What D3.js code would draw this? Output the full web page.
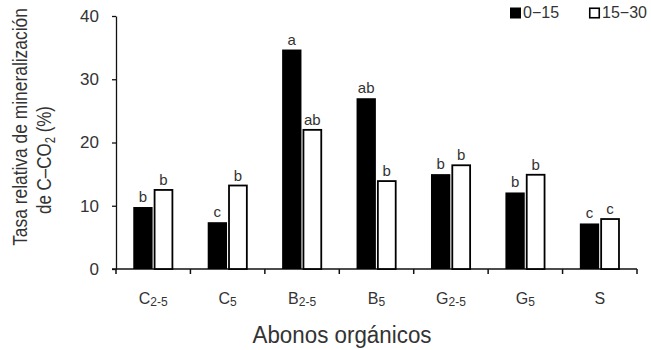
<!DOCTYPE html>
<html>
<head>
<meta charset="utf-8">
<script src="https://cdn.jsdelivr.net/npm/d3@7"></script>
<style>
  body { margin: 0; background: #fff; }
  text { font-family: "Liberation Sans Narrow", "Liberation Sans", Arial, sans-serif; fill: #333; }
</style>
</head>
<body>
<div id="chart"></div>
<script>
// categories: base letter + subscript
var catBase = ["C", "C", "B", "B", "G", "G", "S"];
var catSub = ["2-5", "5", "2-5", "5", "2-5", "5", ""];
var seriesNames = ["0\u221215", "15\u221230"];
var depth0 = [9.8, 7.4, 34.7, 27.0, 15.0, 12.1, 7.2];
var depth1 = [12.5, 13.2, 22.0, 13.9, 16.4, 14.9, 7.9];
var letters0 = ["b", "c", "a", "ab", "b", "b", "c"];
var letters1 = ["b", "b", "ab", "b", "b", "b", "c"];
var yTicks = [0, 10, 20, 30, 40];

var W = 651, H = 350;
var margin = {top: 16, right: 14, bottom: 81, left: 116};

var svg = d3.select("#chart").append("svg")
    .attr("width", W)
    .attr("height", H);

var g = svg.append("g")
    .attr("transform", "translate(" + margin.left + "," + margin.top + ")");

var width = W - margin.left - margin.right,
    height = H - margin.top - margin.bottom;

var idx = d3.range(catBase.length);

var x0 = d3.scaleBand()
    .domain(idx)
    .range([0, width])
    .padding(0);

var x1 = d3.scaleBand()
    .domain([0, 1])
    .range([0, x0.bandwidth()])
    .paddingInner(0.06)
    .paddingOuter(0.84);

var y = d3.scaleLinear()
    .domain([0, 40])
    .range([height, 0]);

// y axis
var yAxis = d3.axisLeft(y)
    .tickValues(yTicks)
    .tickSize(4)
    .tickSizeOuter(0)
    .tickPadding(13);

var yg = g.append("g").attr("class", "y-axis").call(yAxis);
yg.select(".domain").attr("stroke", "#111").attr("stroke-width", 1.3);
yg.selectAll(".tick line").attr("stroke", "#111").attr("stroke-width", 1.3);
yg.selectAll(".tick text")
    .style("font-size", "17px")
    .attr("fill", "#333");

// x axis line + boundary ticks
g.append("line")
    .attr("x1", -4).attr("x2", width)
    .attr("y1", height).attr("y2", height)
    .attr("stroke", "#111").attr("stroke-width", 1.5);

var bounds = idx.map(function (i) { return x0(i); }).concat([width]);
g.selectAll(".xtick")
    .data(bounds)
    .enter().append("line")
    .attr("class", "xtick")
    .attr("x1", function (d) { return d; })
    .attr("x2", function (d) { return d; })
    .attr("y1", height)
    .attr("y2", height + 5)
    .attr("stroke", "#111").attr("stroke-width", 1.5);

// category labels with subscripts
var lab = g.selectAll(".xlab")
    .data(idx)
    .enter().append("text")
    .attr("class", "xlab")
    .attr("x", function (i) { return x0(i) + x0.bandwidth() / 2; })
    .attr("y", height + 35)
    .attr("text-anchor", "middle")
    .style("font-size", "16px");
lab.append("tspan").text(function (i) { return catBase[i]; });
lab.append("tspan")
    .attr("dy", 2)
    .style("font-size", "12px")
    .text(function (i) { return catSub[i]; });

// bars
var groups = g.selectAll(".grp")
    .data(idx)
    .enter().append("g")
    .attr("class", "grp")
    .attr("transform", function (i) { return "translate(" + x0(i) + ",0)"; });

groups.append("rect")
    .attr("x", x1(0))
    .attr("y", function (i) { return y(depth0[i]); })
    .attr("width", x1.bandwidth())
    .attr("height", function (i) { return height - y(depth0[i]); })
    .attr("fill", "#000");

groups.append("rect")
    .attr("x", x1(1) + 0.75)
    .attr("y", function (i) { return y(depth1[i]); })
    .attr("width", x1.bandwidth() - 1.5)
    .attr("height", function (i) { return height - y(depth1[i]); })
    .attr("fill", "#fff")
    .attr("stroke", "#000")
    .attr("stroke-width", 1.8);

// significance letters
groups.append("text")
    .attr("x", x1(0) + x1.bandwidth() / 2)
    .attr("y", function (i) { return y(depth0[i]) - 5; })
    .attr("text-anchor", "middle")
    .style("font-size", "15px")
    .text(function (i) { return letters0[i]; });

groups.append("text")
    .attr("x", x1(1) + x1.bandwidth() / 2)
    .attr("y", function (i) { return y(depth1[i]) - 5; })
    .attr("text-anchor", "middle")
    .style("font-size", "15px")
    .text(function (i) { return letters1[i]; });

// axis titles
svg.append("text")
    .attr("x", 342)
    .attr("y", 343)
    .attr("text-anchor", "middle")
    .attr("textLength", 179)
    .attr("lengthAdjust", "spacingAndGlyphs")
    .style("font-size", "23px")
    .text("Abonos orgánicos");

// squeeze a rotated label horizontally to a target length (narrow font look)
function squeeze(sel, cx, cy, target) {
    var len = sel.node().getComputedTextLength();
    var s = Math.min(1, target / len);
    sel.attr("transform", "translate(" + cx + "," + cy + ") rotate(-90) scale(" + s + ",1)");
}

var yl1 = svg.append("text")
    .attr("text-anchor", "middle")
    .style("font-size", "21px")
    .text("Tasa relativa de mineralización");
squeeze(yl1, 27, 127, 238);

var yl2 = svg.append("text")
    .attr("text-anchor", "middle")
    .style("font-size", "21px");
yl2.append("tspan").text("de C\u2013CO");
yl2.append("tspan").attr("dy", 4).style("font-size", "14px").text("2");
yl2.append("tspan").attr("dy", -4).text(" (%)");
squeeze(yl2, 51, 160, 108);

// legend
var legend = svg.append("g");
var legX = [510, 589];
seriesNames.forEach(function (name, k) {
    legend.append("rect")
        .attr("x", legX[k] + (k ? 0.75 : 0))
        .attr("y", 7.5 + (k ? 0.75 : 0))
        .attr("width", k ? 9.5 : 11)
        .attr("height", k ? 9.5 : 11)
        .attr("fill", k ? "#fff" : "#000")
        .attr("stroke", "#000")
        .attr("stroke-width", k ? 1.6 : 0);
    legend.append("text")
        .attr("x", legX[k] + 13)
        .attr("y", 18)
        .style("font-size", "16px")
        .text(name);
});
</script>
</body>
</html>
